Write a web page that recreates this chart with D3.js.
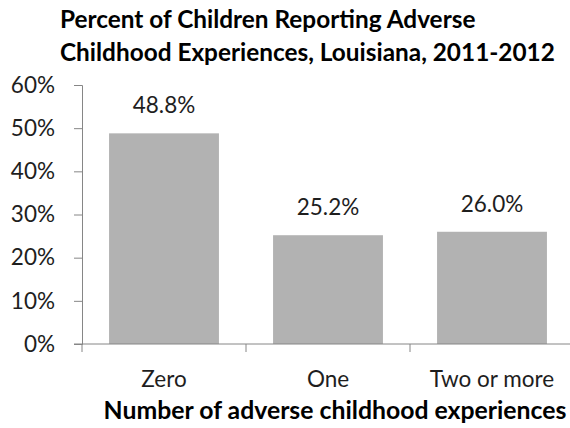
<!DOCTYPE html>
<html><head><meta charset="utf-8">
<script src="https://cdn.jsdelivr.net/npm/d3@7"></script>
<style>
html,body{margin:0;padding:0;background:#fff;}
text{font-family:Lato,"Open Sans","Liberation Sans",sans-serif;}
</style></head>
<body><svg id="c" width="570" height="428"></svg>
<script>
const categories = ["Zero", "One", "Two or more"];
const values = [48.8, 25.2, 26.0];
const valueLabels = ["48.8%", "25.2%", "26.0%"];
const yTicks = [0, 10, 20, 30, 40, 50, 60];
const titleLines = ["Percent of Children Reporting Adverse", "Childhood Experiences, Louisiana, 2011-2012"];
const xTitle = "Number of adverse childhood experiences";

(function(){
const svg = d3.select("#c");
const mLeft = 82, mRight = 574, mTop = 85, mBottom = 344;
const x = d3.scaleBand().domain(categories).range([mLeft, mRight]).paddingInner(0.33).paddingOuter(0.165);
const y = d3.scaleLinear().domain([0, 60]).range([mBottom, mTop]);
const axisColor = "#868686";
const labelSize = "22.5px";
const textColor = "#1e1e1e";

function fit(sel, target){
  sel.each(function(){
    const w = this.getComputedTextLength();
    const fs = parseFloat(d3.select(this).style("font-size"));
    d3.select(this).style("font-size", (fs*target/w).toFixed(2)+"px");
  });
}

// bars
svg.append("g").selectAll("rect").data(values).join("rect")
  .attr("x", (d,i)=>x(categories[i])).attr("width", x.bandwidth())
  .attr("y", d=>y(d)).attr("height", d=>y(0)-y(d))
  .attr("fill", "#b2b2b2");

// y axis
const ya = svg.append("g").attr("transform", `translate(${mLeft},0)`)
  .call(d3.axisLeft(y).tickValues(yTicks).tickFormat(d=>d+"%").tickSizeOuter(0).tickSize(8).tickPadding(19));
ya.select(".domain").attr("stroke", axisColor);
ya.selectAll(".tick line").attr("stroke", axisColor);
ya.selectAll(".tick text").attr("fill", textColor).style("font-size", labelSize);

// x axis
const xa = svg.append("g").attr("transform", `translate(0,${mBottom})`)
  .call(d3.axisBottom(x).tickSize(0).tickSizeOuter(0).tickPadding(27));
xa.select(".domain").remove();
xa.selectAll(".tick text").attr("fill", textColor).style("font-size", labelSize);
svg.append("line").attr("x1", mLeft-8).attr("x2", mRight).attr("y1", mBottom).attr("y2", mBottom).attr("stroke", axisColor);
const boundaries = categories.map(c=>x(c)-x.step()*x.paddingInner()/2).concat([mRight]);
svg.append("g").selectAll("line").data(boundaries).join("line")
  .attr("x1", d=>d).attr("x2", d=>d).attr("y1", mBottom).attr("y2", mBottom+8).attr("stroke", axisColor);

// value labels
svg.append("g").selectAll("text").data(values).join("text")
  .attr("x", (d,i)=>x(categories[i])+x.bandwidth()/2).attr("y", d=>y(d)-20)
  .attr("text-anchor", "middle").attr("fill", textColor).style("font-size", labelSize)
  .text((d,i)=>valueLabels[i]);

// title
const t = svg.append("g").selectAll("text").data(titleLines).join("text")
  .attr("x", 60).attr("y", (d,i)=>28+i*33)
  .attr("font-weight", "bold").attr("fill", "#000").style("font-size", "22px")
  .text(d=>d);
fit(t.filter((d,i)=>i===1), 495);
t.filter((d,i)=>i===0).style("font-size", t.filter((d,i)=>i===1).style("font-size"));

// x title
const xt = svg.append("text").attr("x", 335).attr("y", 419).attr("text-anchor", "middle")
  .attr("font-weight", "bold").attr("fill", "#000").style("font-size", "20px").text(xTitle);
fit(xt, 463);
})();
</script></body></html>
